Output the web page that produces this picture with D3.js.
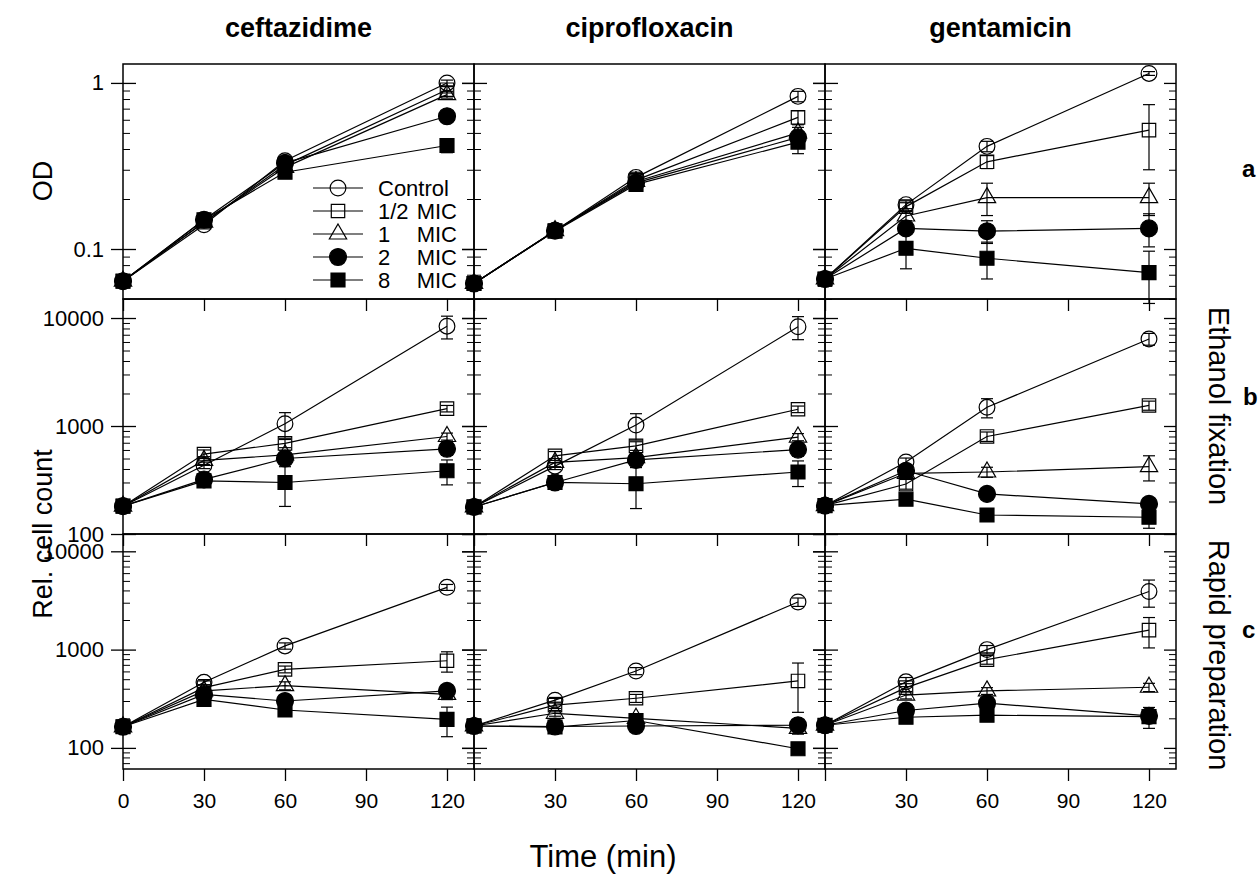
<!DOCTYPE html>
<html><head><meta charset="utf-8">
<script src="https://cdn.jsdelivr.net/npm/d3@7"></script>
<style>
body{margin:0;background:#fff}
svg{display:block}
text{font-family:"Liberation Sans",Arial,Helvetica,sans-serif;fill:#000}
</style>
</head><body>
<svg id="chart" width="1260" height="896"></svg>
<script>
// ---------- data ----------
const times = [0, 30, 60, 120];
const xTicks = [0, 30, 60, 90, 120];
const drugs = ["ceftazidime", "ciprofloxacin", "gentamicin"];
const seriesNames = ["Control", "1/2 MIC", "1 MIC", "2 MIC", "8 MIC"];
const legendNumbers = ["Control", "1/2", "1", "2", "8"];
const rowTitles = ["Ethanol fixation", "Rapid preparation"];
const rowLetters = ["a", "b", "c"];
const odTickValues = [0.1, 1];
const odTickLabels = ["0.1", "1"];
const countTickValues = [100, 1000, 10000];
const countTickLabels = ["100", "1000", "10000"];

// OD (row a) — series order: Control, 1/2, 1, 2, 8 MIC
const odCeftazidime = [
  [0.064, 0.140, 0.340, 1.00],
  [0.064, 0.145, 0.320, 0.91],
  [0.064, 0.145, 0.310, 0.85],
  [0.064, 0.150, 0.330, 0.63],
  [0.064, 0.150, 0.290, 0.42]];
const odCeftazidimeErr = [
  [0, 0.005, 0.02, 0.04], [0, 0.005, 0.02, 0.04], [0, 0.005, 0.02, 0.04],
  [0, 0.005, 0.02, 0.03], [0, 0.005, 0.02, 0.04]];
const odCiprofloxacin = [
  [0.062, 0.129, 0.270, 0.83],
  [0.062, 0.129, 0.260, 0.62],
  [0.062, 0.129, 0.255, 0.50],
  [0.062, 0.129, 0.250, 0.47],
  [0.062, 0.128, 0.245, 0.44]];
const odCiprofloxacinErr = [
  [0, 0.005, 0.02, 0.06], [0, 0.005, 0.02, 0.06], [0, 0.005, 0.02, 0.04],
  [0, 0.005, 0.02, 0.04], [0, 0.005, 0.02, 0.065]];
const odGentamicin = [
  [0.066, 0.185, 0.415, 1.14],
  [0.066, 0.180, 0.335, 0.52],
  [0.066, 0.158, 0.204, 0.204],
  [0.066, 0.133, 0.128, 0.133],
  [0.066, 0.101, 0.088, 0.072]];
const odGentamicinErr = [
  [0, 0.01, 0.03, 0.03], [0, 0.01, 0.03, 0.22], [0, 0.01, 0.045, 0.045],
  [0, 0.01, 0.02, 0.03], [0, 0.025, 0.022, 0.025]];

// Relative cell count, ethanol fixation (row b)
const ethCeftazidime = [
  [181, 433, 1050, 8400],
  [181, 550, 690, 1450],
  [181, 480, 540, 800],
  [181, 320, 500, 615],
  [181, 310, 300, 385]];
const ethCeftazidimeErr = [
  [0, 30, 280, 2000], [0, 50, 60, 100], [0, 40, 50, 60], [0, 30, 50, 80], [0, 30, 120, 100]];
const ethCiprofloxacin = [
  [178, 425, 1020, 8300],
  [178, 530, 655, 1430],
  [178, 460, 510, 790],
  [178, 300, 485, 605],
  [178, 300, 292, 375]];
const ethCiprofloxacinErr = [
  [0, 30, 280, 2000], [0, 50, 60, 100], [0, 40, 50, 60], [0, 30, 50, 80], [0, 30, 120, 100]];
const ethGentamicin = [
  [183, 465, 1490, 6400],
  [183, 290, 800, 1550],
  [183, 365, 375, 420],
  [183, 385, 235, 190],
  [183, 210, 150, 143]];
const ethGentamicinErr = [
  [0, 40, 300, 800], [0, 30, 80, 150], [0, 30, 40, 110], [0, 30, 25, 25], [0, 20, 15, 30]];

// Relative cell count, rapid preparation (row c)
const rapCeftazidime = [
  [164, 465, 1090, 4300],
  [164, 410, 630, 770],
  [164, 380, 430, 350],
  [164, 350, 300, 380],
  [164, 312, 243, 195]];
const rapCeftazidimeErr = [
  [0, 30, 80, 300], [0, 30, 50, 180], [0, 30, 40, 40], [0, 30, 30, 60], [0, 30, 25, 65]];
const rapCiprofloxacin = [
  [167, 306, 606, 3050],
  [167, 272, 320, 480],
  [167, 225, 200, 158],
  [167, 165, 167, 170],
  [167, 163, 190, 98]];
const rapCiprofloxacinErr = [
  [0, 20, 50, 300], [0, 20, 30, 250], [0, 15, 20, 20], [0, 15, 20, 20], [0, 15, 20, 10]];
const rapGentamicin = [
  [170, 470, 1000, 3900],
  [170, 410, 790, 1580],
  [170, 345, 380, 414],
  [170, 240, 285, 212],
  [170, 205, 215, 208]];
const rapGentamicinErr = [
  [0, 50, 100, 1200], [0, 40, 80, 540], [0, 30, 30, 40], [0, 20, 30, 30], [0, 20, 20, 50]];

// ---------- layout ----------
const panelData = [
  [[odCeftazidime, odCeftazidimeErr], [odCiprofloxacin, odCiprofloxacinErr], [odGentamicin, odGentamicinErr]],
  [[ethCeftazidime, ethCeftazidimeErr], [ethCiprofloxacin, ethCiprofloxacinErr], [ethGentamicin, ethGentamicinErr]],
  [[rapCeftazidime, rapCeftazidimeErr], [rapCiprofloxacin, rapCiprofloxacinErr], [rapGentamicin, rapGentamicinErr]]
];
const colX = [123, 474, 825];
const rowY = [64, 299, 534];
const PW = 351, PH = 235;
const yDomains = [[0.05, 1.3], [100, 15000], [61, 15000]];
const FONT = '"Liberation Sans",Arial,sans-serif';

const svg = d3.select("#chart");
const x = d3.scaleLinear().domain([0, 130]).range([0, PW]);

const markers = [
  {type: d3.symbolCircle, size: 195, fill: "none"},
  {type: d3.symbolSquare, size: 180, fill: "none"},
  {type: d3.symbolTriangle, size: 130, fill: "none"},
  {type: d3.symbolCircle, size: 225, fill: "#000"},
  {type: d3.symbolSquare, size: 195, fill: "#000"}
];

for (let r = 0; r < 3; r++) {
  const y = d3.scaleLog().domain(yDomains[r]).range([PH, 0]);
  const majors = r === 0 ? odTickValues : countTickValues;
  const majorLabels = r === 0 ? odTickLabels : countTickLabels;
  const minors = y.ticks(20).filter(v => !majors.some(m => Math.abs(m - v) / m < 1e-6));
  for (let c = 0; c < 3; c++) {
    const g = svg.append("g").attr("transform", `translate(${colX[c]},${rowY[r]})`);
    const [vals, errs] = panelData[r][c];

    // frame
    g.append("rect").attr("width", PW).attr("height", PH)
      .attr("fill", "none").attr("stroke", "#000").attr("stroke-width", 1.5);

    // left axis (major crossing ticks, labels only in first column)
    const la = g.append("g").call(d3.axisLeft(y).tickValues(majors)
      .tickFormat((d, i) => c === 0 ? majorLabels[i] : "")
      .tickSizeInner(-13).tickSizeOuter(0).tickPadding(19));
    la.select(".domain").remove();
    la.selectAll(".tick line").attr("x1", -12).attr("stroke", "#000").attr("stroke-width", 1.3);
    la.selectAll(".tick text").attr("font-size", 22).attr("font-family", FONT);
    const lm = g.append("g").call(d3.axisLeft(y).tickValues(minors).tickFormat("")
      .tickSizeInner(-7).tickSizeOuter(0));
    lm.select(".domain").remove();
    lm.selectAll(".tick line").attr("stroke-width", 1);

    // right axis (inward ticks)
    const ra = g.append("g").attr("transform", `translate(${PW},0)`)
      .call(d3.axisRight(y).tickValues(majors).tickFormat("").tickSizeInner(-12).tickSizeOuter(0));
    ra.select(".domain").remove();
    ra.selectAll(".tick line").attr("stroke-width", 1.3);
    const rm = g.append("g").attr("transform", `translate(${PW},0)`)
      .call(d3.axisRight(y).tickValues(minors).tickFormat("").tickSizeInner(-7).tickSizeOuter(0));
    rm.select(".domain").remove();
    rm.selectAll(".tick line").attr("stroke-width", 1);

    // bottom axis (outward ticks)
    const ba = g.append("g").attr("transform", `translate(0,${PH})`)
      .call(d3.axisBottom(x).tickValues(xTicks)
        .tickFormat(d => (r === 2 && (c === 0 || d !== 0)) ? String(d) : "")
        .tickSizeInner(12).tickSizeOuter(0).tickPadding(12));
    ba.select(".domain").remove();
    ba.selectAll(".tick line").attr("stroke-width", 1.3);
    ba.selectAll(".tick text").attr("font-size", 21).attr("font-family", FONT);

    // series lines
    const line = d3.line().x((d, i) => x(times[i])).y(d => y(d));
    vals.forEach(s => {
      g.append("path").datum(s).attr("d", line)
        .attr("fill", "none").attr("stroke", "#000").attr("stroke-width", 1.2);
    });
    // error bars
    vals.forEach((s, si) => {
      const eg = g.append("g").attr("stroke", "#000").attr("stroke-width", 1.2);
      s.forEach((v, i) => {
        const e = errs[si][i];
        if (!e) return;
        const lo = Math.max(v - e, yDomains[r][0] * 0.5);
        const y1 = Math.min(y(lo), PH + 14), y2 = y(v + e);
        const cx = x(times[i]);
        eg.append("line").attr("x1", cx).attr("x2", cx).attr("y1", y1).attr("y2", y2);
        eg.append("line").attr("x1", cx - 6).attr("x2", cx + 6).attr("y1", y2).attr("y2", y2);
        if (y(lo) < PH + 14) eg.append("line").attr("x1", cx - 6).attr("x2", cx + 6).attr("y1", y1).attr("y2", y1);
      });
    });
    // markers
    vals.forEach((s, si) => {
      const m = markers[si];
      const sym = d3.symbol().type(m.type).size(m.size);
      g.append("g").selectAll("path").data(s).join("path")
        .attr("transform", (d, i) => `translate(${x(times[i])},${y(d)})`)
        .attr("d", sym())
        .attr("fill", m.fill).attr("stroke", "#000").attr("stroke-width", 1.2);
    });
  }
}

// legend in panel a / ceftazidime
const lg = svg.append("g");
const legY = [188, 211, 234, 257, 280];
seriesNames.forEach((name, i) => {
  const yy = legY[i];
  lg.append("line").attr("x1", 313).attr("x2", 363).attr("y1", yy).attr("y2", yy)
    .attr("stroke", "#000").attr("stroke-width", 1.2);
  const m = markers[i];
  lg.append("path").attr("transform", `translate(338,${yy})`)
    .attr("d", d3.symbol().type(m.type).size(m.size)())
    .attr("fill", m.fill).attr("stroke", "#000").attr("stroke-width", 1.2);
  const t = lg.append("text").attr("y", yy + 8).attr("font-size", 22);
  if (i === 0) {
    t.append("tspan").attr("x", 378).text(name);
  } else {
    t.append("tspan").attr("x", 378).text(legendNumbers[i]);
    t.append("tspan").attr("x", 457).attr("text-anchor", "end").text(" MIC");
  }
});

// column titles
drugs.forEach((d, i) => {
  svg.append("text").attr("x", colX[i] + PW / 2).attr("y", 37)
    .attr("text-anchor", "middle").attr("font-size", 27).attr("font-weight", "bold").text(d);
});

// y axis titles
svg.append("text").attr("transform", "translate(52,181) rotate(-90)")
  .attr("text-anchor", "middle").attr("font-size", 27).text("OD");
svg.append("text").attr("transform", "translate(52,534) rotate(-90)")
  .attr("text-anchor", "middle").attr("font-size", 27).text("Rel. cell count");

// x title
svg.append("text").attr("x", 603).attr("y", 867).attr("text-anchor", "middle")
  .attr("font-size", 31).text("Time (min)");

// right row titles
svg.append("text").attr("transform", "translate(1209,406) rotate(90)")
  .attr("text-anchor", "middle").attr("font-size", 29).text(rowTitles[0]);
svg.append("text").attr("transform", "translate(1209,655) rotate(90)")
  .attr("text-anchor", "middle").attr("font-size", 29).text(rowTitles[1]);

// panel letters
const letterPos = [[1242, 177], [1243, 405], [1242, 638]];
rowLetters.forEach((l, i) => {
  svg.append("text").attr("x", letterPos[i][0]).attr("y", letterPos[i][1])
    .attr("font-family", '"Liberation Serif","Times New Roman",serif')
    .attr("font-weight", "bold").attr("font-size", 24).text(l);
});
</script>
</body></html>
